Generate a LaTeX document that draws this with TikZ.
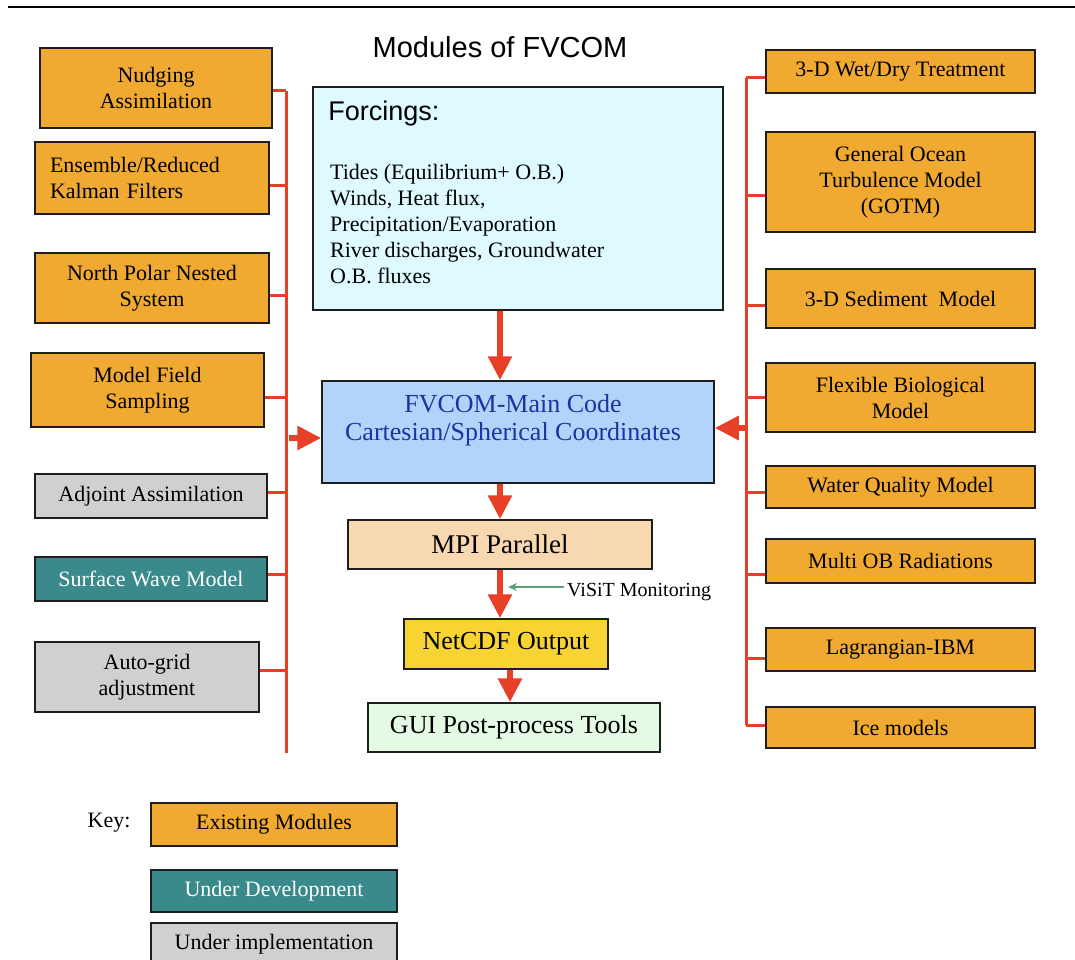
\documentclass[tikz,border=0pt]{standalone}
\usepackage{fontspec}
\setmainfont{Liberation Serif}
\setsansfont{Liberation Sans}
\usetikzlibrary{arrows.meta}
\definecolor{modorange}{RGB}{240,170,50}
\definecolor{modteal}{RGB}{58,138,140}
\definecolor{modgray}{RGB}{208,208,208}
\definecolor{forcecyan}{RGB}{222,250,255}
\definecolor{mainblue}{RGB}{178,212,250}
\definecolor{maintext}{RGB}{30,50,160}
\definecolor{mpipeach}{RGB}{248,216,176}
\definecolor{cdfyellow}{RGB}{248,212,50}
\definecolor{guigreen}{RGB}{228,250,228}
\definecolor{busred}{RGB}{232,64,40}
\definecolor{visitgreen}{RGB}{90,160,120}
\definecolor{boxline}{RGB}{30,30,30}

\begin{document}
\begin{tikzpicture}[x=1pt,y=-1pt,
  box/.style={draw=boxline,line width=1.5pt,inner sep=0pt,align=center,
    font=\fontsize{22}{26}\selectfont},
  existing/.style={box,fill=modorange},
  develop/.style={box,fill=modteal,text=white},
  implement/.style={box,fill=modgray},
  leftmod/.style={minimum width=#1},
  rightmod/.style={existing,minimum width=269pt,minimum height=#1},
  bus/.style={busred,line width=3pt},
  flow/.style={busred,line width=6pt,-{Triangle[length=24pt,width=23pt]}},
  visitarrow/.style={visitgreen,line width=1.2pt,-{Stealth[length=9pt,width=8pt]}}
]
\useasboundingbox (0,0) rectangle (1075,960);
\fill[white] (0,0) rectangle (1075,960);
\clip (0,0) rectangle (1075,960);
\draw[line width=2.5pt] (8,7) -- (1075,7);
\node[font=\sffamily\fontsize{29}{34}\selectfont] (title) at (500,47) {Modules of FVCOM};

\node[existing,leftmod=232pt,minimum height=80pt] (l1) at (156,88) {Nudging\\Assimilation};
\node[existing,leftmod=234pt,minimum height=72pt,text width=204pt,align=left] (l2) at (152,178) {Ensemble/Reduced\\Kalman Filters};
\node[existing,leftmod=234pt,minimum height=70pt] (l3) at (152,288) {North Polar Nested\\System};
\node[existing,leftmod=233pt,minimum height=74pt] (l4) at (147.5,390) {Model Field\\Sampling};
\node[implement,leftmod=232pt,minimum height=44pt] (l5) at (151,496) {Adjoint Assimilation};
\node[develop,leftmod=232pt,minimum height=44pt] (l6) at (151,579) {Surface Wave Model};
\node[implement,leftmod=224pt,minimum height=70pt] (l7) at (147,677) {Auto-grid\\adjustment};

\node[rightmod=43pt] (r1) at (900.5,71.5) {3-D Wet/Dry Treatment};
\node[rightmod=100pt] (r2) at (900.5,182) {General Ocean\\Turbulence Model\\(GOTM)};
\node[rightmod=59pt] (r3) at (900.5,298.5) {3-D Sediment\ \ Model};
\node[rightmod=69pt] (r4) at (900.5,397.5) {Flexible Biological\\Model};
\node[rightmod=42pt] (r5) at (900.5,487) {Water Quality Model};
\node[rightmod=44pt] (r6) at (900.5,561) {Multi OB Radiations};
\node[rightmod=43pt] (r7) at (900.5,649.5) {Lagrangian-IBM};
\node[rightmod=41pt] (r8) at (900.5,727.5) {Ice models};

\node[box,fill=forcecyan,minimum width=410pt,minimum height=223pt] (forc) at (518,198.5) {};
\node[anchor=north west,inner sep=0pt,font=\sffamily\fontsize{27}{32}\selectfont] (forctitle) at ([shift={(16,14)}]forc.north west) {Forcings:};
\node[anchor=north west,inner sep=0pt,align=left,font=\fontsize{22}{26}\selectfont] (forclist) at (330,164) {Tides (Equilibrium+ O.B.)\\Winds, Heat flux,\\Precipitation/Evaporation\\River discharges, Groundwater\\O.B. fluxes};

\node[box,fill=mainblue,minimum width=392pt,minimum height=102pt] (main) at (518,432) {};
\node[inner sep=0pt,align=center,text=maintext,font=\fontsize{26}{28}\selectfont] (maintxt) at (513,420) {FVCOM-Main Code\\Cartesian/Spherical Coordinates};
\node[box,fill=mpipeach,minimum width=304pt,minimum height=49pt,font=\fontsize{27}{30}\selectfont] (mpi) at (500,544.5) {MPI Parallel};
\node[box,fill=cdfyellow,minimum width=204pt,minimum height=50pt,font=\fontsize{26}{30}\selectfont] (netcdf) at (506,644) {NetCDF Output};
\node[box,fill=guigreen,minimum width=292pt,minimum height=49pt,font=\fontsize{26}{30}\selectfont] (gui) at (514,727.5) {GUI Post-process Tools};
\node[anchor=west,inner sep=0pt,font=\fontsize{20}{24}\selectfont] (visit) at (567,592) {ViSiT Monitoring};

\coordinate (lbustop) at (286,91);
\coordinate (lbusbot) at (286,753);
\coordinate (rbustop) at (746,78);
\coordinate (rbusbot) at (746,725);
\coordinate (lin) at (289,438);
\coordinate (rin) at (746,428);
\coordinate (visitend) at (508,587);

\draw[bus] (lbustop) -- (lbusbot);
\draw[bus] (rbustop) -- (rbusbot);
\foreach \n/\y in {l1/91,l2/185,l3/295,l4/397,l5/492,l6/574,l7/670}
  \draw[bus] (\n.east |- 0,\y) -- (lbustop |- 0,\y);
\foreach \n/\y in {r1/78,r2/195,r3/305,r4/397,r5/492,r6/574,r7/658,r8/725}
  \draw[bus] (\n.west |- 0,\y) -- (rbustop |- 0,\y);

\draw[flow] (lin) -- (main.west |- lin);
\draw[flow] (rin) -- (main.east |- rin);
\draw[flow] ([xshift=-18pt]forc.south) -- ([xshift=-18pt]main.north);
\draw[flow] ([xshift=-18pt]main.south) -- (mpi.north);
\draw[flow] (mpi.south) -- ([xshift=-6pt]netcdf.north);
\draw[flow] ([xshift=4pt]netcdf.south) -- ([xshift=-4pt]gui.north);
\draw[visitarrow] ([xshift=-3pt]visit.west |- visitend) -- (visitend);

\node[inner sep=0pt,font=\fontsize{22}{26}\selectfont] (key) at (109,823) {Key:};
\node[existing,minimum width=246pt,minimum height=43pt] (k1) at (274,824.5) {Existing Modules};
\node[develop,minimum width=246pt,minimum height=42pt] (k2) at (274,891) {Under Development};
\node[implement,minimum width=246pt,minimum height=43pt] (k3) at (274,944.5) {Under implementation};
\end{tikzpicture}
\end{document}
